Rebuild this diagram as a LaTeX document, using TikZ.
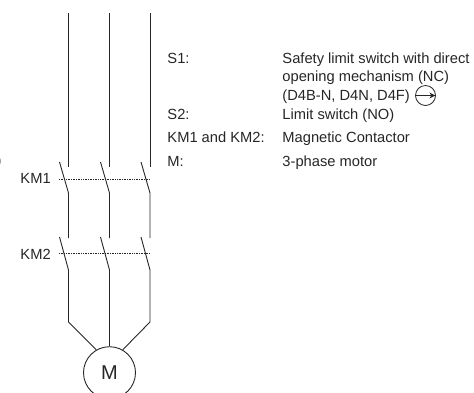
\documentclass[tikz,border=0pt]{standalone}
\usepackage{fontspec}
\setmainfont{Liberation Sans}
\usepackage{tikz}
\usetikzlibrary{arrows.meta}
\begin{document}
\begin{tikzpicture}[x=1pt, y=-1pt, line width=0.9pt, black!85,
  label/.style = {font=\fontsize{14.7}{17}\selectfont, inner sep=0pt, text=black!85},
  note/.style = {label, anchor=base west},
  link/.style = {densely dotted, line width=0.7pt}]
\useasboundingbox (0,0) rectangle (474,392);
\clip (0,0) rectangle (474,392);
% motor
\node[draw, circle, minimum size=52pt, inner sep=0pt, label] (M) at (109.5,372.7) {\fontsize{20}{20}\selectfont M};
% first pole
\coordinate (a1) at (68.5,13);
\coordinate (a2) at (68.5,167);
\coordinate (a3) at (59.5,162);
\coordinate (a4) at (68.5,193);
\coordinate (a5) at (68.5,238);
\coordinate (a6) at (59.5,237);
\coordinate (a7) at (68.5,270);
\coordinate (a8) at (68.5,322);
% second pole
\coordinate (b1) at (109.5,13);
\coordinate (b2) at (109.5,167);
\coordinate (b3) at (100.5,162);
\coordinate (b4) at (109.5,193);
\coordinate (b5) at (109.5,238);
\coordinate (b6) at (100.5,237);
\coordinate (b7) at (109.5,270);
% third pole
\coordinate (c1) at (150,13);
\coordinate (c2) at (150,167);
\coordinate (c3) at (141,162);
\coordinate (c4) at (150,193);
\coordinate (c5) at (150,238);
\coordinate (c6) at (141,237);
\coordinate (c7) at (150,270);
\coordinate (c8) at (150,322);
\draw (a1) -- (a2);
\draw (a3) -- (a4) -- (a5);
\draw (a6) -- (a7) -- (a8) -- (M.120);
\draw (b1) -- (b2);
\draw (b3) -- (b4) -- (b5);
\draw (b6) -- (b7) -- (M);
\draw (c1) -- (c2);
\draw (c3) -- (c4) -- (c5);
\draw (c6) -- (c7) -- (c8) -- (M.60);
% coupling lines
\node[note] (km1) at (20,183) {KM1};
\node[note] (km2) at (20,259) {KM2};
\coordinate (k1) at (59,179);
\coordinate (k2) at (150,179);
\coordinate (k3) at (59,253);
\coordinate (k4) at (150,253);
\draw[link] (k1) -- (k2);
\draw[link] (k3) -- (k4);
% cut off text at the left edge
\node[label, anchor=base east] (cut) at (2,165) {)};
% key
\node[note] (s1) at (167,63) {S1:};
\node[note] (s1a) at (282,63) {Safety limit switch with direct};
\node[note] (s1b) at (282,81) {opening mechanism (NC)};
\node[note] (s1c) at (282,100.5) {(D4B-N, D4N, D4F)};
\node[note] (s2) at (167,119.5) {S2:};
\node[note] (s2a) at (282,119.5) {Limit switch (NO)};
\node[note] (km) at (167,142) {KM1 and KM2:};
\node[note] (kma) at (282,142) {Magnetic Contactor};
\node[note] (m) at (167,166) {M:};
\node[note] (ma) at (282,166) {3-phase motor};
% direct opening mark
\node[draw, circle, minimum size=20pt, inner sep=0pt, line width=0.8pt] (mark) at (425.5,95.5) {};
\draw[-{Stealth[length=6pt, width=6pt]}, line width=0.9pt, shorten <=1pt, shorten >=0.5pt] (mark.west) -- (mark.east);
\end{tikzpicture}
\end{document}
